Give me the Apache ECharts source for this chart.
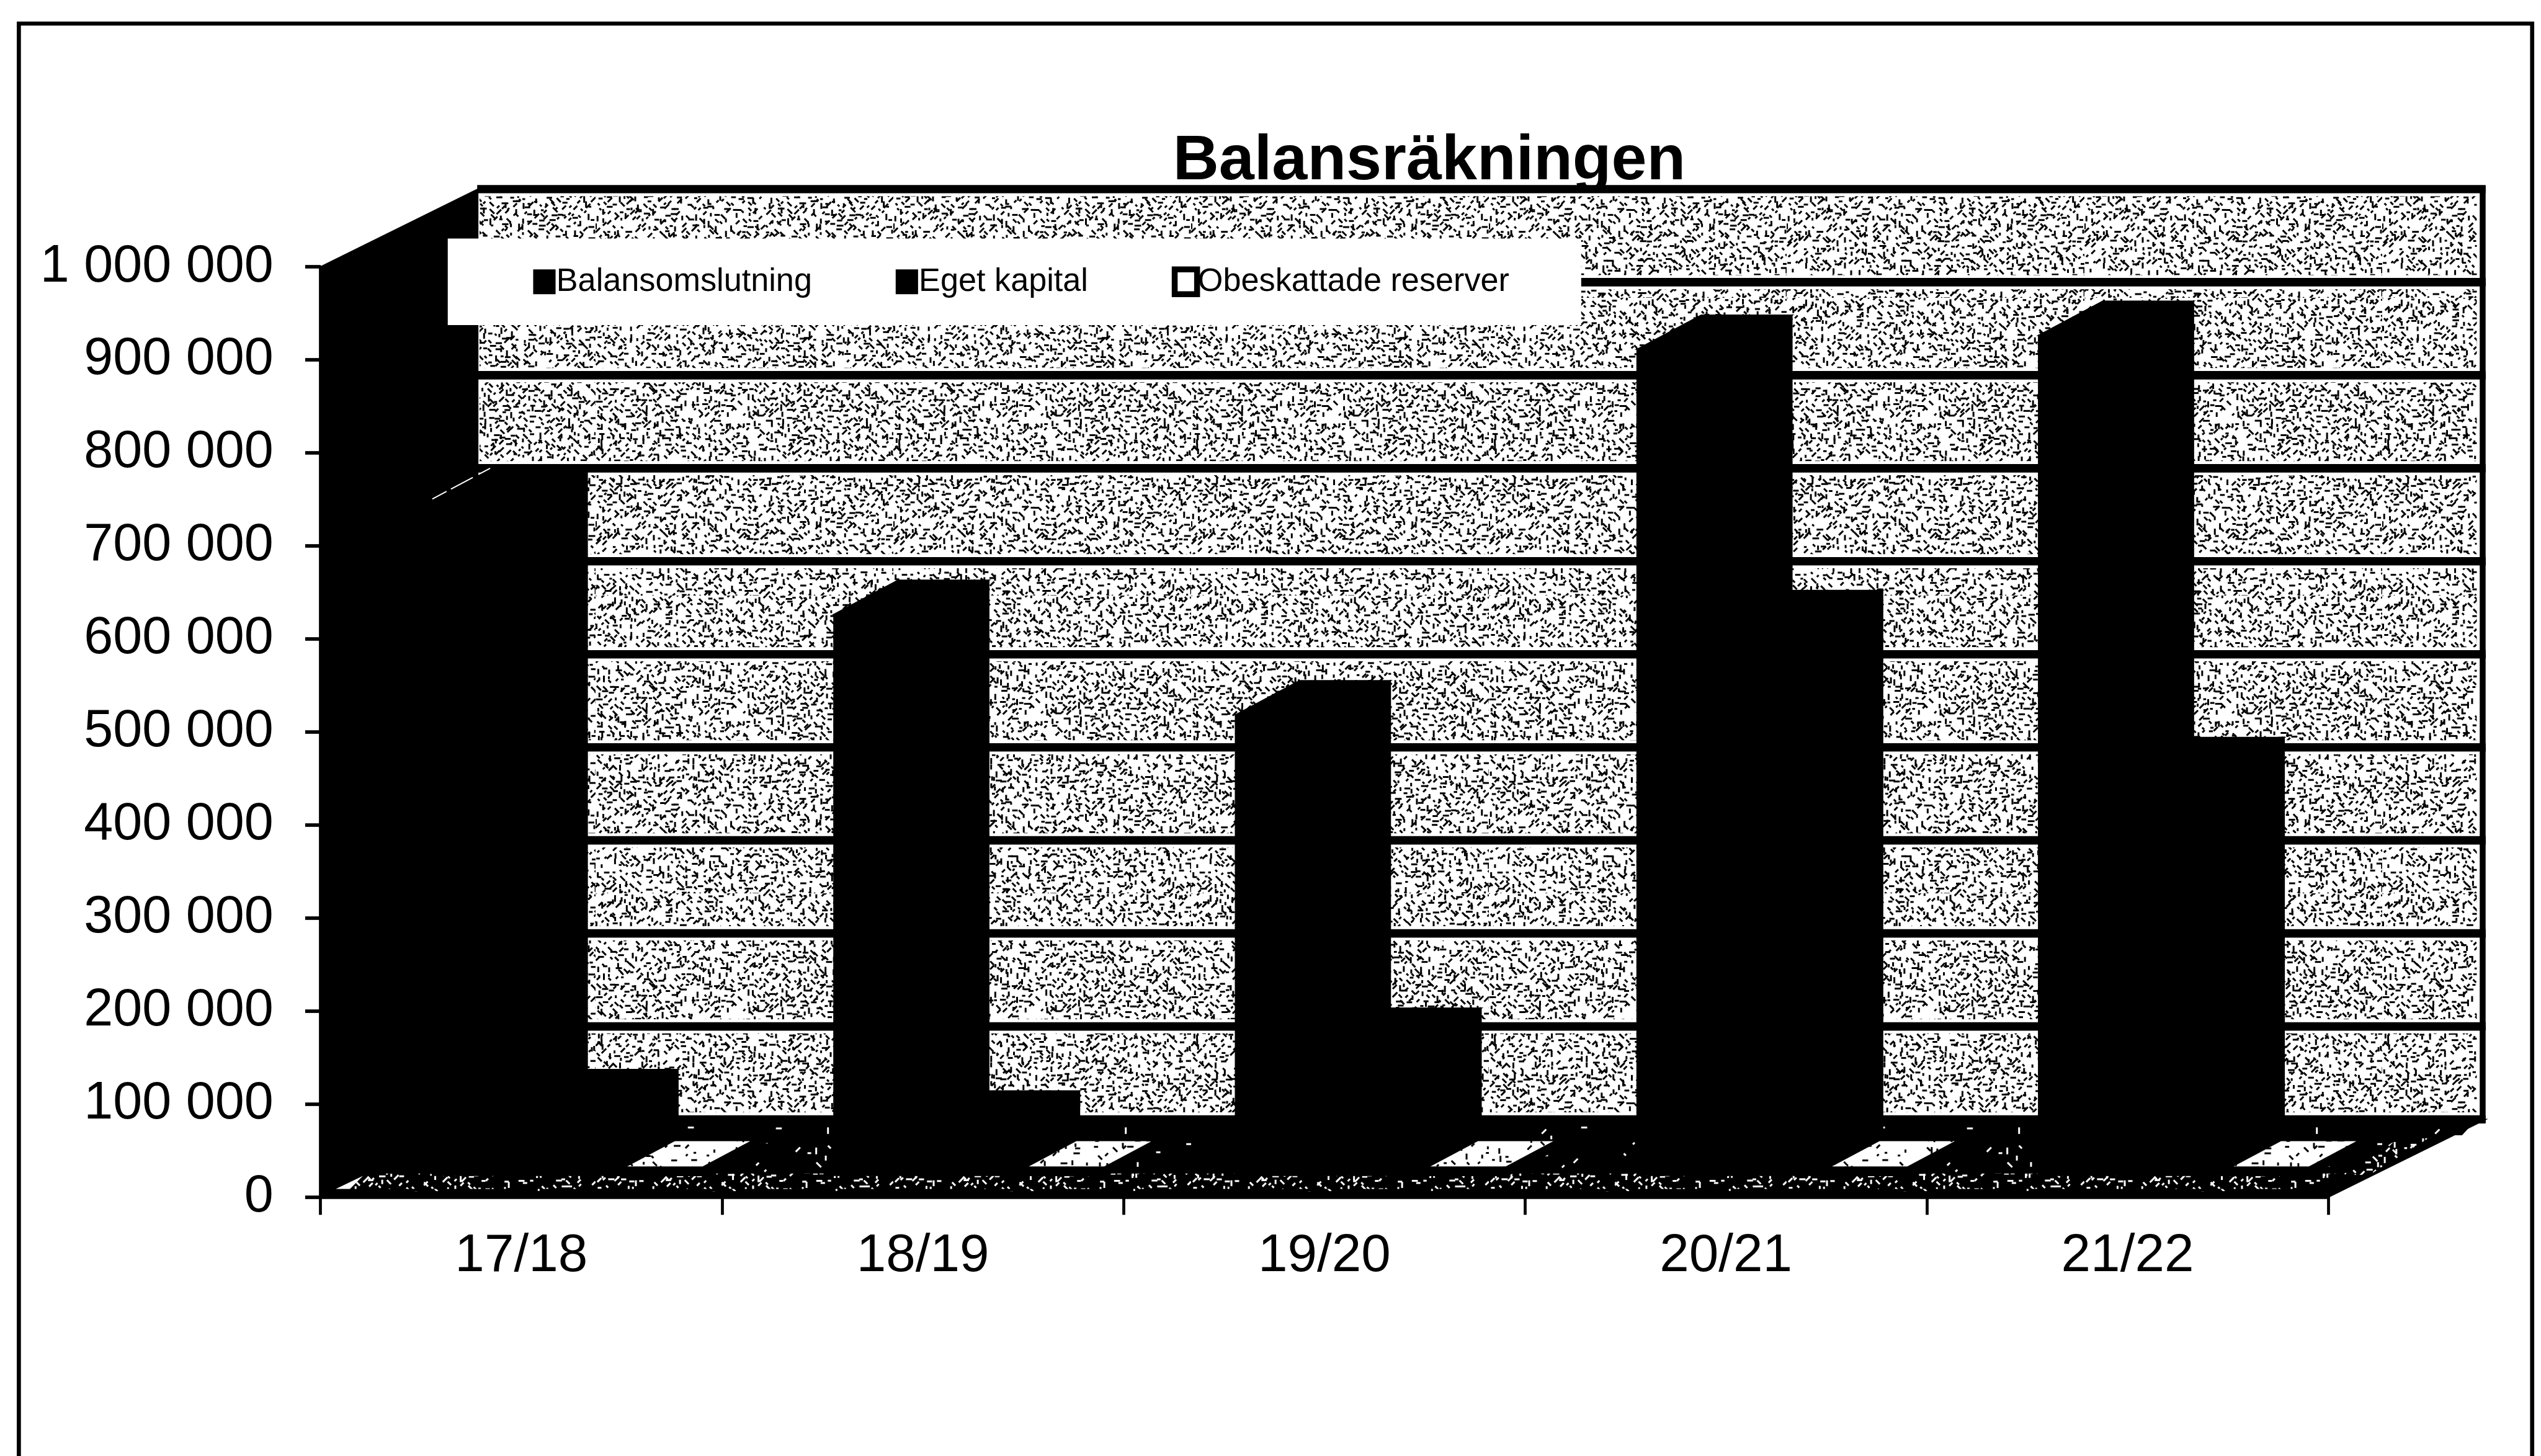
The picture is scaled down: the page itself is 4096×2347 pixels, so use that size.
<!DOCTYPE html>
<html>
<head>
<meta charset="utf-8">
<style>html,body{margin:0;padding:0;background:#fff}#c{width:4096px;height:2347px}</style>
<script src="https://cdn.jsdelivr.net/npm/echarts@6/dist/echarts.min.js"></script>
</head>
<body>
<div id="c"></div>
<script>
const categories = ['17/18','18/19','19/20','20/21','21/22'];
const balansomslutning = [727000,603000,495000,888000,903000];
const egetKapital = [77000,54000,143000,592000,434000];
const obeskattadeReserver = [0,0,0,0,0];
const bands = [0,100000,200000,300000,400000,500000,600000,700000,800000,900000];

const s = 4096/4313;
const FONT = '"Liberation Sans", Arial, sans-serif';
const WALL = [267*s,-132*s];      // depth of the chart box
const BAR_OFF = [80*s,-37*s];     // front plane of the bars inside the box
const BAR_D = [109*s,-58*s];      // depth of a bar
const BAR_W = 154*s;

// Printed-halftone textures for wall and floor (purely decorative fill)
function texture(bg, ink, step, keep, seed, lw){
  const c = document.createElement('canvas'); c.width = c.height = 480;
  const g = c.getContext('2d'); g.fillStyle = bg; g.fillRect(0,0,480,480);
  g.strokeStyle = ink; g.fillStyle = ink; g.lineWidth = lw; g.lineCap = 'butt';
  let r = seed; const rnd = () => (r = (r*1664525+1013904223)>>>0)/4294967296;
  for(let y=0;y<480;y+=step)for(let x=0;x<480;x+=step){
    const u=rnd(),v=rnd(),k=rnd(),l=rnd();
    if(k>keep) continue;
    const px=x+u*step*0.7, py=y+v*step*0.7, len=4+l*7;
    g.beginPath(); g.moveTo(px,py);
    const d=Math.floor(rnd()*4);
    if(d===0) g.lineTo(px+len,py);
    else if(d===1) g.lineTo(px,py+len);
    else if(d===2) g.lineTo(px+len*0.7,py+len*0.7);
    else g.lineTo(px+len*0.7,py-len*0.7);
    g.stroke();
  }
  return c;
}
const wallTex = texture('#fff','#000',9,0.88,12345,3);
const floorDense = texture('#000','#fff',10,0.7,777,3);
const floorSparse = texture('#000','#fff',16,0.16,4242,3);
const barTex = texture('#fff','#000',11,0.45,99,3);

function poly(points, fill){
  const solid = fill === '#000';
  return {type:'polygon', shape:{points}, style:{fill: fill, stroke: solid?'#000':null, lineWidth: solid?2:0}, silent:true};
}

function renderBox(params, api){
  const v = api.value(0);
  const cs = params.coordSys;
  const x0 = cs.x+WALL[0], x1 = cs.x+cs.width+WALL[0];
  const yb = api.coord([0,v])[1]+WALL[1];
  const yt = api.coord([0,v+100000])[1]+WALL[1];
  const t = 12*s;
  return {type:'group', children:[
    {type:'rect', shape:{x:x0,y:yt,width:x1-x0,height:yb-yt}, style:{fill:'#fff'}, silent:true},
    {type:'rect', shape:{x:x0+3*s,y:yt+t,width:x1-x0-18*s,height:yb-yt-2*t}, style:{fill:{image:wallTex,repeat:'repeat'}}, silent:true},
    {type:'rect', shape:{x:x0-1,y:yt-t/2-1,width:x1-x0+1,height:t+2}, style:{fill:'#000'}, silent:true},
    {type:'rect', shape:{x:x0-1,y:yb-t/2-1,width:x1-x0+1,height:t+2}, style:{fill:'#000'}, silent:true},
    {type:'rect', shape:{x:x1-10*s,y:yt-t/2,width:10*s,height:yb-yt+t}, style:{fill:'#000'}, silent:true}
  ]};
}

function renderShell(params, api){
  const cs = params.coordSys;
  const xl = cs.x, xr = cs.x+cs.width;
  const y0 = api.coord([0,0])[1], y1 = api.coord([0,1000000])[1];
  const W = WALL;
  return {type:'group', children:[
    poly([[xl,y1],[xl+W[0],y1+W[1]],[xl+W[0],y0+W[1]+6*s],[xl,y0]],'#000'),
    poly([[xl,y0],[xr,y0],[xr+W[0],y0+W[1]],[xl+W[0],y0+W[1]]],'#000'),
    poly([[xl+46*s,y0-10*s],[xr-22*s,y0-10*s],[xr+W[0]-52*s,y0+W[1]+3*s],[xl+W[0]+14*s,y0+W[1]+3*s]],
      {image:floorSparse,repeat:'repeat'}),
    poly([[xl+40*s,y0-14*s],[xr-20*s,y0-14*s],[xr+22*s,y0-40*s],[xl+86*s,y0-40*s]],
      {image:floorDense,repeat:'repeat'}),
    poly([[xl+26*s,y0-14*s],[xl+50*s,y0-14*s],[xl+72*s,y0-36*s]],'#fff'),
    poly([[xl+W[0]+2*s,y0+W[1]+27*s],[xr+W[0]-40*s,y0+W[1]+27*s],[xr+W[0]-18*s,y0+W[1]+3*s],[xl+W[0]+2*s,y0+W[1]+3*s]],
      {image:floorSparse,repeat:'repeat'}),
    poly([[xr+24*s,y0-38*s],[xr+70*s,y0-38*s],[xr+170*s,y0-100*s],[xr+120*s,y0-100*s]],
      {image:floorDense,repeat:'repeat'})
  ]};
}

function barRenderer(k){
  return function(params, api){
    const i = api.value(0), val = api.value(1);
    const band = api.size([1,0])[0];
    const cx = api.coord([i,0])[0];
    const yBase = api.coord([i,0])[1]+BAR_OFF[1];
    const yTop = api.coord([i,val])[1]+BAR_OFF[1];
    const gap = band-3*BAR_W;
    const x0 = cx-band/2+BAR_OFF[0]+gap/2+k*BAR_W;
    const x1 = x0+BAR_W;
    const D = BAR_D;
    const kids = [
      poly([[x0,yTop],[x1,yTop],[x1,yBase],[x0,yBase]],'#000'),
      poly([[x1,yTop],[x1+D[0],yTop+D[1]],[x1+D[0],yBase+D[1]],[x1,yBase]],'#000'),
      poly([[x0,yTop],[x0+D[0],yTop+D[1]],[x1+D[0],yTop+D[1]],[x1,yTop]],'#000')
    ];
    if(k===2){
      const P=(u,w)=>[x0+u*BAR_W+w*D[0]-10*s, yTop+w*D[1]];
      kids.push(poly([P(0.03,0.26),P(0.86,0.26),P(0.86,1),P(0.03,1)],{image:barTex,repeat:'repeat'}));
    }
    if(k===0 && i===0){
      kids.push({type:'line',shape:{x1:x0,y1:yTop,x2:x0+D[0]*0.9,y2:yTop+D[1]*0.9},
        style:{stroke:'#fff',lineWidth:2,lineDash:[26,8,40,10]},silent:true});
    }
    return {type:'group',children:kids};
  };
}

const seriesRows = [
  ['Balansomslutning',balansomslutning],
  ['Eget kapital',egetKapital],
  ['Obeskattade reserver',obeskattadeReserver]
];

const chart = echarts.init(document.getElementById('c'),null,{renderer:'canvas',width:4096,height:2347});
chart.setOption({
  animation:false,
  backgroundColor:'#fff',
  title:{
    text:'Balansräkningen', left:2426*s, top:220*s, textAlign:'center', padding:0, z:20,
    textStyle:{fontFamily:FONT,fontWeight:'bold',fontSize:108*s,color:'#000'}
  },
  legend:{
    data:[
      {name:'Balansomslutning',icon:'rect',itemStyle:{color:'#000',borderWidth:0}},
      {name:'Eget kapital',icon:'rect',itemStyle:{color:'#000',borderWidth:0}},
      {name:'Obeskattade reserver',icon:'rect',itemStyle:{color:'#fff',borderColor:'#000',borderWidth:10*s}}
    ],
    left:760*s, top:405*s, orient:'horizontal',
    padding:[46*s,122*s,46*s,145*s],
    backgroundColor:'#fff', z:30,
    itemWidth:38*s, itemHeight:42*s, itemGap:142*s,
    selectedMode:false,
    textStyle:{fontFamily:FONT,fontSize:55*s,color:'#000',padding:[0,0,0,-4*s]}
  },
  grid:{left:544*s,top:453*s,width:3408*s,height:1579*s,containLabel:false},
  xAxis:{
    type:'category',data:categories,boundaryGap:true,
    axisLine:{show:true,lineStyle:{color:'#000',width:5*s}},
    axisTick:{show:true,length:30*s,lineStyle:{color:'#000',width:5*s}},
    axisLabel:{fontFamily:FONT,fontSize:90*s,color:'#000',margin:56*s},
    splitLine:{show:false}
  },
  yAxis:{
    type:'value',min:0,max:1000000,interval:100000,
    axisLine:{show:true,lineStyle:{color:'#000',width:5*s}},
    axisTick:{show:true,length:26*s,lineStyle:{color:'#000',width:6*s}},
    axisLabel:{
      fontFamily:FONT,fontSize:89*s,color:'#000',margin:80*s,padding:[12*s,0,0,0],
      formatter:v=>String(v).replace(/\B(?=(\d{3})+$)/g,' ')
    },
    splitLine:{show:false}
  },
  series:[
    {type:'custom',name:'wall',coordinateSystem:'cartesian2d',renderItem:renderBox,silent:true,z:1,
     encode:{y:0},data:bands.map(v=>[v])},
    {type:'custom',name:'shell',coordinateSystem:'cartesian2d',renderItem:renderShell,silent:true,z:2,
     data:[[0]]},
    ...seriesRows.map((row,k)=>({
      type:'custom',name:row[0],coordinateSystem:'cartesian2d',renderItem:barRenderer(k),silent:true,z:3+k,
      encode:{x:0,y:1},itemStyle:{color:k===2?'#fff':'#000'},
      data:row[1].map((v,i)=>[i,v])
    }))
  ],
  graphic:[{
    type:'polyline',z:0,silent:true,
    shape:{points:[[32*s,2347],[32*s,40*s],[4298*s,40*s],[4298*s,2347]]},
    style:{stroke:'#000',lineWidth:7*s,fill:null}
  }]
});
</script>
</body>
</html>
